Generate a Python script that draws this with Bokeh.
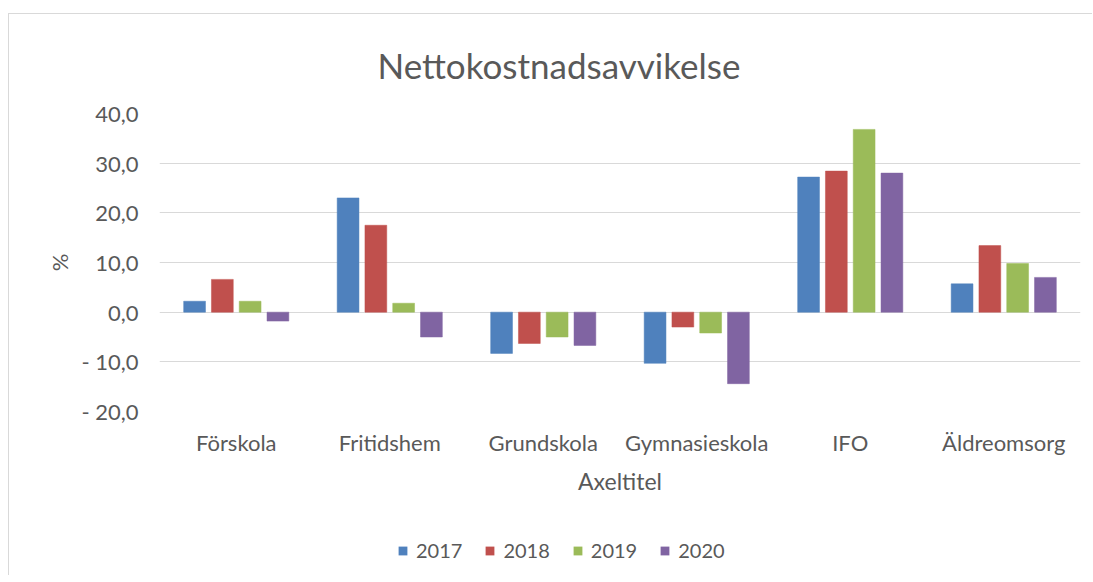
from bokeh.plotting import figure
from bokeh.layouts import column
from bokeh.models import (FactorRange, Range1d, FixedTicker, Legend, LegendItem,
                          ColumnDataSource)
from bokeh.transform import dodge
from bokeh.embed import file_html
from bokeh.resources import INLINE

categories = ["Förskola", "Fritidshem", "Grundskola", "Gymnasieskola", "IFO", "Äldreomsorg"]
years = ["2017", "2018", "2019", "2020"]
v2017 = [2.2, 23.0, -8.3, -10.3, 27.2, 5.7]
v2018 = [6.6, 17.5, -6.3, -3.0, 28.4, 13.4]
v2019 = [2.2, 1.8, -5.0, -4.2, 36.8, 9.8]
v2020 = [-1.8, -5.0, -6.7, -14.4, 28.0, 7.0]
colors = ["#4F81BD", "#C0504D", "#9BBB59", "#8064A2"]
y_ticks = [-20, -10, 0, 10, 20, 30, 40]
y_tick_labels = ["- 20,0", "- 10,0", "0,0", "10,0", "20,0", "30,0", "40,0"]
title_text = "Nettokostnadsavvikelse"
x_title = "Axeltitel"
y_title = "%"

FONT = "Lato"
GREY = "#595959"
FS = "22px"

p = figure(x_range=FactorRange(*categories), y_range=Range1d(-20, 40),
           width=1083, height=511, output_backend="svg", toolbar_location=None,
           min_border_left=150, min_border_right=12, min_border_top=99, min_border_bottom=114)
p.outline_line_color = None
p.background_fill_color = "white"
p.border_fill_color = "white"

src = ColumnDataSource(dict(cat=categories, v2017=v2017, v2018=v2018, v2019=v2019, v2020=v2020))
series = ["v2017", "v2018", "v2019", "v2020"]
step = 0.181
for i, (col, c) in enumerate(zip(series, colors)):
    off = (i - 1.5) * step
    p.vbar(x=dodge("cat", off, range=p.x_range), top=col, bottom=0, width=0.142,
           source=src, fill_color=c, line_color=c, line_width=0.5)

# grid
p.xgrid.grid_line_color = None
p.ygrid.ticker = FixedTicker(ticks=y_ticks)
p.ygrid.grid_line_color = "#d9d9d9"
p.ygrid.grid_line_width = 1

# y axis
p.yaxis.ticker = FixedTicker(ticks=y_ticks)
p.yaxis.major_label_overrides = {t: l for t, l in zip(y_ticks, y_tick_labels)}
p.yaxis.axis_line_color = None
p.yaxis.major_tick_line_color = None
p.yaxis.minor_tick_line_color = None
p.yaxis.major_label_text_font = FONT
p.yaxis.major_label_text_font_size = FS
p.yaxis.major_label_text_color = GREY
p.yaxis.major_label_standoff = 15
p.yaxis.axis_label = y_title
p.yaxis.axis_label_text_font = FONT
p.yaxis.axis_label_text_font_size = FS
p.yaxis.axis_label_text_font_style = "normal"
p.yaxis.axis_label_text_color = GREY
p.yaxis.axis_label_standoff = 5

# x axis
p.xaxis.axis_line_color = None
p.xaxis.major_tick_line_color = None
p.xaxis.minor_tick_line_color = None
p.xaxis.major_label_text_font = FONT
p.xaxis.major_label_text_font_size = FS
p.xaxis.major_label_text_color = GREY
p.xaxis.major_label_standoff = 11
p.xaxis.axis_label = x_title
p.xaxis.axis_label_text_font = FONT
p.xaxis.axis_label_text_font_size = "23px"
p.xaxis.axis_label_text_font_style = "normal"
p.xaxis.axis_label_text_color = GREY
p.xaxis.axis_label_standoff = 8

# title
p.title.text = title_text
p.title.align = "left"
p.title.offset = 218
p.title.vertical_align = "middle"
p.title.text_font = FONT
p.title.text_font_size = "35px"
p.title.text_font_style = "normal"
p.title.text_color = GREY
p.title.standoff = 54

# legend strip (a frame-only figure so the legend is never clipped)
lf = figure(width=1083, height=50, output_backend="svg", toolbar_location=None,
            x_range=Range1d(0, 1), y_range=Range1d(0, 1),
            x_axis_location=None, y_axis_location=None, min_border=0)
lf.outline_line_color = None
lf.xgrid.grid_line_color = None
lf.ygrid.grid_line_color = None
lf.border_fill_color = "white"
items = []
for lab, c in zip(years, colors):
    # zero-size swatch carrier: only its legend swatch shows
    r = lf.vbar(x=[0.5], top=[0], bottom=[0], width=0, fill_color=c, line_color=None)
    items.append(LegendItem(label=lab, renderers=[r]))
legend = Legend(items=items, orientation="horizontal", location=(238, 13),
                border_line_color=None, background_fill_alpha=0, padding=0, margin=0,
                glyph_width=11, glyph_height=11, label_standoff=8, spacing=22,
                label_text_font=FONT, label_text_font_size="20px", label_text_color=GREY)
lf.add_layout(legend, "center")

layout = column(p, lf, spacing=0,
                styles={"margin-left": "8px", "margin-top": "13px",
                        "border-left": "1px solid #d9d9d9", "border-top": "1px solid #d9d9d9"})

open("out.html", "w").write(file_html(layout, INLINE))
